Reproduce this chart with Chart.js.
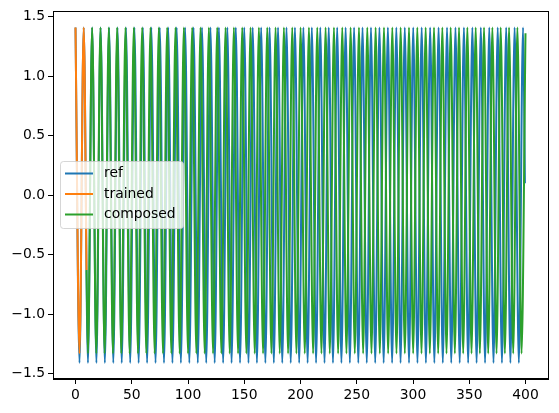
<!DOCTYPE html>
<html>
<head>
<meta charset="utf-8">
<script src="https://cdn.jsdelivr.net/npm/chart.js@4"></script>
<style>
  html, body { margin: 0; padding: 0; background: #fff; }
  #wrap { width: 559px; height: 413px; }
</style>
</head>
<body>
<div id="wrap"><canvas id="waveChart" width="559" height="413"></canvas></div>
<script>
// series names and colours
let seriesNames = ['ref', 'trained', 'composed'];
let seriesColors = ['#1f77b4', '#ff7f0e', '#2ca02c'];

// tick labels
let xTicks = [0, 50, 100, 150, 200, 250, 300, 350, 400];
let yTicks = [-1.5, -1.0, -0.5, 0.0, 0.5, 1.0, 1.5];

// ref: peaks and troughs
let refX = [0, 3.56, 7.31, 11.07, 14.82, 18.58, 22.33, 26.09, 29.84, 33.6,
  37.35, 41.1, 44.86, 48.62, 52.37, 56.13, 59.88, 63.64, 67.39, 71.15,
  74.9, 78.66, 82.41, 86.17, 89.92, 93.68, 97.43, 101.19, 104.94, 108.7,
  112.45, 116.21, 119.96, 123.72, 127.47, 131.23, 134.98, 138.74, 142.49, 146.25,
  150.0, 153.76, 157.51, 161.27, 165.02, 168.78, 172.53, 176.29, 180.04, 183.8,
  187.55, 191.31, 195.06, 198.82, 202.57, 206.33, 210.08, 213.84, 217.59, 221.35,
  225.1, 228.86, 232.61, 236.37, 240.12, 243.88, 247.63, 251.39, 255.14, 258.9,
  262.65, 266.41, 270.16, 273.92, 277.67, 281.43, 285.18, 288.94, 292.69, 296.45,
  300.2, 303.96, 307.71, 311.47, 315.22, 318.98, 322.73, 326.49, 330.24, 334.0,
  337.75, 341.51, 345.26, 349.02, 352.77, 356.53, 360.28, 364.04, 367.79, 371.55,
  375.3, 379.06, 382.81, 386.57, 390.32, 394.08, 397.83, 399.5];
let refY = [1.41, -1.41, 1.41, -1.41, 1.41, -1.41, 1.41, -1.41, 1.41, -1.41,
  1.41, -1.41, 1.41, -1.41, 1.41, -1.41, 1.41, -1.41, 1.41, -1.41,
  1.41, -1.41, 1.41, -1.41, 1.41, -1.41, 1.41, -1.41, 1.41, -1.41,
  1.41, -1.41, 1.41, -1.41, 1.41, -1.41, 1.41, -1.41, 1.41, -1.41,
  1.41, -1.41, 1.41, -1.41, 1.41, -1.41, 1.41, -1.41, 1.41, -1.41,
  1.41, -1.41, 1.41, -1.41, 1.41, -1.41, 1.41, -1.41, 1.41, -1.41,
  1.41, -1.41, 1.41, -1.41, 1.41, -1.41, 1.41, -1.41, 1.41, -1.41,
  1.41, -1.41, 1.41, -1.41, 1.41, -1.41, 1.41, -1.41, 1.41, -1.41,
  1.41, -1.41, 1.41, -1.41, 1.41, -1.41, 1.41, -1.41, 1.41, -1.41,
  1.41, -1.41, 1.41, -1.41, 1.41, -1.41, 1.41, -1.41, 1.41, -1.41,
  1.41, -1.41, 1.41, -1.41, 1.41, -1.41, 1.41, 0.1];

// trained: only the first few steps
let trainedX = [0, 3.56, 7.31, 9.8];
let trainedY = [1.41, -1.33, 1.41, -0.63];

// composed: carries on from the end of trained, drifting slowly ahead of ref
let composedX = [9.8, 11.07, 14.78, 18.48, 22.19, 25.89, 29.6, 33.31, 37.01, 40.72, 44.42,
  48.13, 51.84, 55.54, 59.25, 62.95, 66.66, 70.37, 74.07, 77.78, 81.48,
  85.19, 88.9, 92.6, 96.31, 100.01, 103.72, 107.43, 111.13, 114.84, 118.54,
  122.25, 125.96, 129.66, 133.37, 137.07, 140.78, 144.49, 148.19, 151.9, 155.6,
  159.31, 163.02, 166.72, 170.43, 174.13, 177.84, 181.55, 185.25, 188.96, 192.66,
  196.37, 200.08, 203.78, 207.49, 211.19, 214.9, 218.61, 222.31, 226.02, 229.72,
  233.43, 237.14, 240.84, 244.55, 248.25, 251.96, 255.67, 259.37, 263.08, 266.78,
  270.49, 274.2, 277.9, 281.61, 285.31, 289.02, 292.73, 296.43, 300.14, 303.84,
  307.55, 311.26, 314.96, 318.67, 322.37, 326.08, 329.79, 333.49, 337.2, 340.9,
  344.61, 348.32, 352.02, 355.73, 359.43, 363.14, 366.85, 370.55, 374.26, 377.96,
  381.67, 385.38, 389.08, 392.79, 396.49, 400];
let composedY = [-0.63, -1.33, 1.41, -1.33, 1.41, -1.33, 1.41, -1.33, 1.41, -1.33, 1.41,
  -1.33, 1.41, -1.33, 1.41, -1.33, 1.41, -1.33, 1.41, -1.33, 1.41,
  -1.33, 1.41, -1.33, 1.41, -1.33, 1.41, -1.33, 1.41, -1.33, 1.41,
  -1.33, 1.41, -1.33, 1.41, -1.33, 1.41, -1.33, 1.41, -1.33, 1.41,
  -1.33, 1.41, -1.33, 1.41, -1.33, 1.41, -1.33, 1.41, -1.33, 1.41,
  -1.33, 1.41, -1.33, 1.41, -1.33, 1.41, -1.33, 1.41, -1.33, 1.41,
  -1.33, 1.41, -1.33, 1.41, -1.33, 1.41, -1.33, 1.41, -1.33, 1.41,
  -1.33, 1.41, -1.33, 1.41, -1.33, 1.41, -1.33, 1.41, -1.33, 1.41,
  -1.33, 1.41, -1.33, 1.41, -1.33, 1.41, -1.33, 1.41, -1.33, 1.41,
  -1.33, 1.41, -1.33, 1.41, -1.33, 1.41, -1.33, 1.41, -1.33, 1.41,
  -1.33, 1.41, -1.33, 1.41, -1.33, 1.36];

//turn two arrays into {x, y} points
function toPoints(xs, ys){
  let pts = [];
  for(let i = 0; i < xs.length; i++){
    pts.push({x: xs[i], y: ys[i]});
  }
  return pts;
}

function makeDataset(i, xs, ys){
  return {
    label: seriesNames[i],
    data: toPoints(xs, ys),
    borderColor: seriesColors[i],
    backgroundColor: seriesColors[i],
    borderWidth: 2,
    pointRadius: 0,
    fill: false,
    cubicInterpolationMode: 'monotone',
    order: 3 - i
  };
}

let fontFamily = '"DejaVu Sans", sans-serif';

//frame round the plot area
const framePlugin = {
  id: 'frame',
  afterDraw(chart){
    let ctx = chart.ctx, a = chart.chartArea;
    ctx.save();
    ctx.strokeStyle = '#000';
    ctx.lineWidth = 1;
    ctx.strokeRect(Math.round(a.left) + 0.5, Math.round(a.top) + 0.5,
      Math.round(a.right - a.left), Math.round(a.bottom - a.top));
    ctx.restore();
  }
};

//matplotlib style legend box at the left middle
const legendPlugin = {
  id: 'mplLegend',
  afterDatasetsDraw(chart){
    let ctx = chart.ctx;
    let bx = 60.5, by = 161.5, bw = 123, bh = 67, r = 3;
    ctx.save();
    ctx.beginPath();
    ctx.moveTo(bx + r, by);
    ctx.arcTo(bx + bw, by, bx + bw, by + bh, r);
    ctx.arcTo(bx + bw, by + bh, bx, by + bh, r);
    ctx.arcTo(bx, by + bh, bx, by, r);
    ctx.arcTo(bx, by, bx + bw, by, r);
    ctx.closePath();
    ctx.fillStyle = 'rgba(255,255,255,0.8)';
    ctx.fill();
    ctx.strokeStyle = 'rgba(204,204,204,0.8)';
    ctx.lineWidth = 1;
    ctx.stroke();
    let rows = [173.5, 194, 214.5];
    ctx.font = '13.9px ' + fontFamily;
    ctx.textBaseline = 'middle';
    for(let i = 0; i < seriesNames.length; i++){
      ctx.beginPath();
      ctx.moveTo(65, rows[i]);
      ctx.lineTo(93, rows[i]);
      ctx.strokeStyle = seriesColors[i];
      ctx.lineWidth = 2;
      ctx.stroke();
      ctx.fillStyle = '#000';
      ctx.fillText(seriesNames[i], 104, rows[i]);
    }
    ctx.restore();
  }
};

let elChart = document.getElementById('waveChart').getContext('2d');
let waveChart = new Chart(elChart, {
  type: 'line',
  data: {
    datasets: [
      makeDataset(0, refX, refY),
      makeDataset(1, trainedX, trainedY),
      makeDataset(2, composedX, composedY)
    ]
  },
  options: {
    responsive: false,
    animation: false,
    devicePixelRatio: 1,
    layout: { padding: { top: 10, right: 11, left: 0, bottom: 0 } },
    plugins: {
      legend: { display: false },
      tooltip: { enabled: false }
    },
    scales: {
      x: {
        type: 'linear',
        min: -20,
        max: 420,
        afterBuildTicks(scale){ scale.ticks = xTicks.map(v => ({value: v})); },
        afterFit(scale){ scale.height = 34; },
        grid: { drawOnChartArea: false, drawTicks: true, tickLength: 5, color: '#000' },
        border: { display: true, color: '#000', width: 1 },
        ticks: {
          color: '#000',
          padding: 3,
          maxRotation: 0,
          autoSkip: false,
          font: { family: fontFamily, size: 13.9 },
          callback: v => String(v)
        }
      },
      y: {
        type: 'linear',
        min: -1.545,
        max: 1.545,
        afterBuildTicks(scale){ scale.ticks = yTicks.map(v => ({value: v})); },
        afterFit(scale){ scale.width = 53; },
        grid: { drawOnChartArea: false, drawTicks: true, tickLength: 5, color: '#000' },
        border: { display: true, color: '#000', width: 1 },
        ticks: {
          color: '#000',
          padding: 3,
          autoSkip: false,
          font: { family: fontFamily, size: 13.9 },
          callback: v => v.toFixed(1).replace('-', '\u2212')
        }
      }
    }
  },
  plugins: [framePlugin, legendPlugin]
});
</script>
</body>
</html>
